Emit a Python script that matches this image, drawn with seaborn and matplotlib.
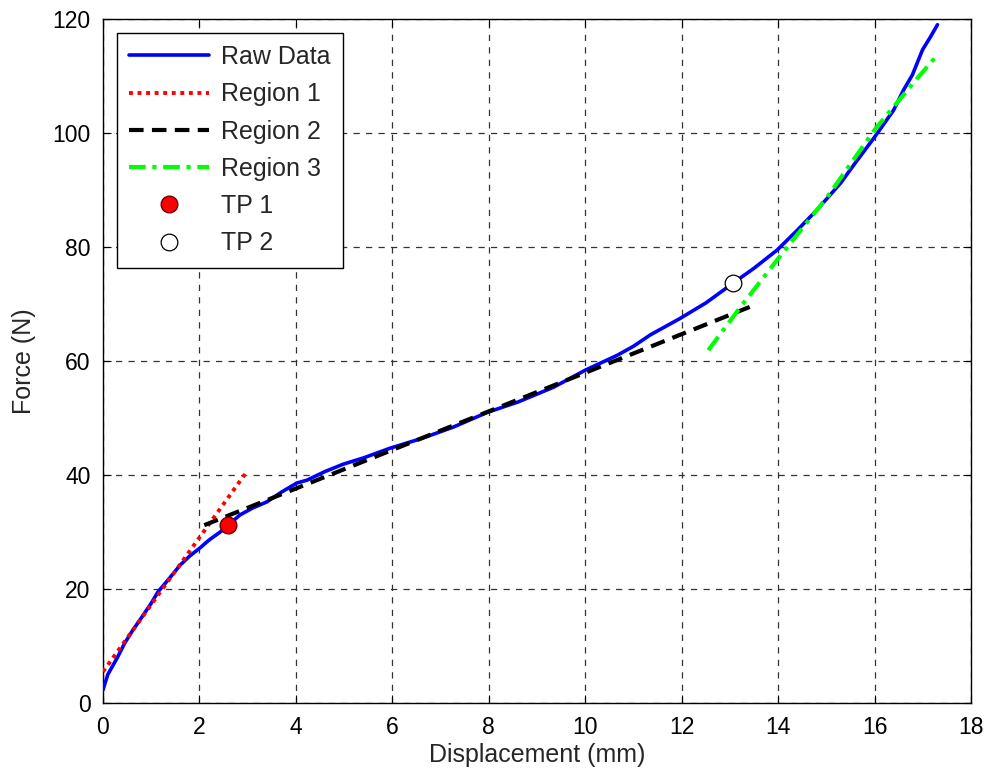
import numpy as np
import pandas as pd
import matplotlib
matplotlib.use("Agg")
import matplotlib.pyplot as plt
import seaborn as sns

# ---------------- data ----------------
raw_x = [0.0, 0.1, 0.3, 0.45, 0.62, 0.8, 1.0, 1.14, 1.35, 1.6, 1.8, 2.01, 2.2, 2.43, 2.65, 2.84,
         3.1, 3.4, 3.7, 4.02, 4.23, 4.6, 4.98, 5.4, 5.95, 6.6, 7.26, 7.97, 8.6, 9.34, 10.0,
         10.66, 11.0, 11.35, 11.97, 12.5, 13.07, 13.5, 13.98, 14.4, 14.8, 15.29, 15.6, 15.98,
         16.39, 16.6, 16.78, 16.99, 17.15, 17.3]
raw_y = [2.3, 5.0, 8.0, 10.5, 12.8, 15.0, 17.5, 19.5, 21.6, 24.2, 25.8, 27.2, 28.6, 30.0, 31.6, 33.0,
         34.2, 35.3, 37.0, 38.6, 39.1, 40.6, 41.9, 43.0, 44.7, 46.4, 48.4, 51.0, 52.8, 55.4, 58.4,
         61.0, 62.6, 64.6, 67.5, 70.2, 73.7, 76.3, 79.5, 83.0, 86.5, 91.2, 94.8, 99.1,
         104.0, 107.6, 110.2, 114.6, 116.8, 119.0]

region1_x = [0.0, 3.0]
region1_y = [5.5, 40.8]

region2_x = [2.1, 13.5]
region2_y = [31.2, 69.8]

region3_x = [12.55, 13.2, 14.0, 15.0, 16.0, 16.9, 17.26]
region3_y = [61.9, 69.3, 78.0, 88.6, 100.6, 109.8, 113.3]

tp1 = (2.6, 31.2)
tp2 = (13.07, 73.7)

# ---------------- style ----------------
sns.set_style("ticks")
plt.rcParams["font.family"] = ["Liberation Sans", "DejaVu Sans"]

fig = plt.figure(figsize=(9.94, 7.80), dpi=100)
ax = fig.add_axes([0.1036, 0.0987, 0.8735, 0.8769])

raw = pd.DataFrame({"x": raw_x, "y": raw_y})
r1 = pd.DataFrame({"x": region1_x, "y": region1_y})
r2 = pd.DataFrame({"x": region2_x, "y": region2_y})
r3 = pd.DataFrame({"x": region3_x, "y": region3_y})

sns.lineplot(data=raw, x="x", y="y", ax=ax, color="#0000ff", lw=2.6,
             sort=False, estimator=None, label="Raw Data", zorder=3)
sns.lineplot(data=r1, x="x", y="y", ax=ax, color="#ff0000", lw=2.8,
             linestyle=(0, (1, 1.2)), sort=False, estimator=None, label="Region 1", zorder=4)
sns.lineplot(data=r2, x="x", y="y", ax=ax, color="black", lw=3.0,
             linestyle=(0, (3.5, 2)), sort=False, estimator=None, label="Region 2", zorder=4)
sns.lineplot(data=r3, x="x", y="y", ax=ax, color="#00ff00", lw=3.0,
             linestyle=(0, (4, 1.6, 1, 1.6)), sort=False, estimator=None, label="Region 3", zorder=4)

ax.plot([tp1[0]], [tp1[1]], "o", ms=12, mfc="#ff0000", mec="#700000", mew=1.0,
        ls="none", label="TP 1", zorder=5)
ax.plot([tp2[0]], [tp2[1]], "o", ms=12, mfc="white", mec="black", mew=0.9,
        ls="none", label="TP 2", zorder=5)

ax.set_xlim(0, 18)
ax.set_ylim(0, 120)
ax.set_xticks(np.arange(0, 19, 2))
ax.set_yticks(np.arange(0, 121, 20))
ax.set_xlabel("Displacement (mm)", fontsize=18, labelpad=3)
ax.set_ylabel("Force (N)", fontsize=18, labelpad=12)

ax.grid(True, color="#333333", linestyle=(0, (5, 5)), lw=0.9)
ax.tick_params(direction="in", top=True, right=True, length=6, width=0.8,
               labelsize=16.5, colors="black", pad=9)
for s in ax.spines.values():
    s.set_color("black")
    s.set_linewidth(1.0)
    s.set_visible(True)

leg = ax.legend(loc="upper left", bbox_to_anchor=(0.016, 0.98), borderaxespad=0,
                fontsize=18, fancybox=False, framealpha=1, edgecolor="black",
                borderpad=0.5, handlelength=3.2, labelspacing=0.53, handletextpad=0.45)
leg.get_frame().set_linewidth(1.0)

fig.savefig("out.png", dpi=100)
